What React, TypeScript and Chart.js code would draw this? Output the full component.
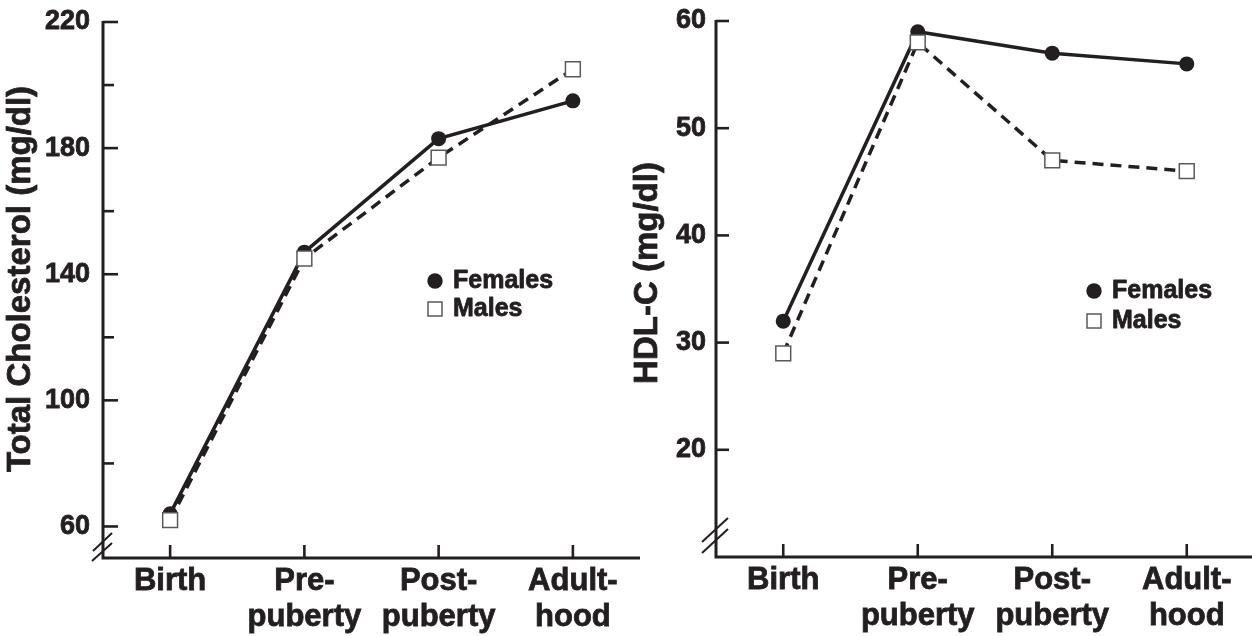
import React, { useEffect, useRef } from 'react';
import { Chart, registerables } from 'chart.js';

Chart.register(...registerables);

// ---------- data ----------
const categories: string[][] = [['Birth'], ['Pre-', 'puberty'], ['Post-', 'puberty'], ['Adult-', 'hood']];
const tcFemales = [64, 147, 183, 195];
const tcMales = [62, 145, 177, 205];
const hdlFemales = [32, 59, 57, 56];
const hdlMales = [29, 58, 47, 46];
const tcMajorTicks = [60, 100, 140, 180, 220];
const tcMinorTicks = [80, 120, 160, 200];
const hdlMajorTicks = [20, 30, 40, 50, 60];
const hdlMinorTicks: number[] = [];
const legendLabels = ['Females', 'Males'];
const tcTitle = 'Total Cholesterol (mg/dl)';
const hdlTitle = 'HDL-C (mg/dl)';

const INK = '#231f20';
const FONT = '"Liberation Sans", Arial, Helvetica, sans-serif';
const HEAVY = 0.8;

type Panel = {
  females: number[];
  males: number[];
  min: number;
  max: number;
  major: number[];
  minor: number[];
  title: string;
  canvasW: number;
  yAxisW: number;
  xAxisH: number;
  padTop: number;
  padRight: number;
  yLabelPad: number;
  majorLen: number;
  titleX: number;
  titleY: number;
  legendDX: number;
  legendDY: number;
  legendGap: number;
  brk: number[][];
};

function makeChart(canvas: HTMLCanvasElement, p: Panel) {
  const plugin = {
    id: 'decor_' + p.title.length,
    beforeDatasetsDraw(chart: any) {
      const ctx = chart.ctx as CanvasRenderingContext2D;
      const ca = chart.chartArea;
      const xs = chart.scales.x;
      const ys = chart.scales.y;
      ctx.save();
      ctx.strokeStyle = INK;
      ctx.lineWidth = 3;
      ctx.lineJoin = 'miter';
      ctx.lineCap = 'butt';
      ctx.beginPath();
      ctx.moveTo(ca.left, ys.getPixelForValue(p.max) - 1);
      ctx.lineTo(ca.left, ca.bottom);
      ctx.lineTo(ca.right, ca.bottom);
      ctx.stroke();
      ctx.lineWidth = 2.6;
      p.major.forEach((v) => {
        const py = ys.getPixelForValue(v);
        ctx.beginPath();
        ctx.moveTo(ca.left, py);
        ctx.lineTo(ca.left + p.majorLen, py);
        ctx.stroke();
      });
      p.minor.forEach((v) => {
        const py = ys.getPixelForValue(v);
        ctx.beginPath();
        ctx.moveTo(ca.left, py);
        ctx.lineTo(ca.left + p.majorLen - 4, py);
        ctx.stroke();
      });
      categories.forEach((_, i) => {
        const px = xs.getPixelForValue(i);
        ctx.beginPath();
        ctx.moveTo(px, ca.bottom);
        ctx.lineTo(px, ca.bottom - 13);
        ctx.stroke();
      });
      ctx.lineWidth = 2;
      p.brk.forEach((s) => {
        ctx.beginPath();
        ctx.moveTo(ca.left + s[0], ca.bottom + s[1]);
        ctx.lineTo(ca.left + s[2], ca.bottom + s[3]);
        ctx.stroke();
      });
      ctx.restore();
    },
    afterDraw(chart: any) {
      const ctx = chart.ctx as CanvasRenderingContext2D;
      const ca = chart.chartArea;
      ctx.save();
      ctx.fillStyle = INK;
      ctx.strokeStyle = INK;
      ctx.lineWidth = HEAVY;
      ctx.lineJoin = 'round';
      ctx.font = `bold 33px ${FONT}`;
      ctx.textAlign = 'center';
      ctx.textBaseline = 'middle';
      ctx.translate(p.titleX, p.titleY);
      ctx.rotate(-Math.PI / 2);
      ctx.fillText(p.title, 0, 0);
      ctx.strokeText(p.title, 0, 0);
      ctx.restore();

      ctx.save();
      const lx = ca.left + p.legendDX;
      const ly = ca.top + p.legendDY;
      ctx.fillStyle = INK;
      ctx.beginPath();
      ctx.arc(lx, ly, 7.7, 0, Math.PI * 2);
      ctx.fill();
      ctx.fillStyle = '#fff';
      ctx.strokeStyle = '#58595b';
      ctx.lineWidth = 1.5;
      ctx.fillRect(lx - 7, ly + p.legendGap - 7, 14, 14);
      ctx.strokeRect(lx - 7, ly + p.legendGap - 7, 14, 14);
      ctx.fillStyle = INK;
      ctx.strokeStyle = INK;
      ctx.lineWidth = HEAVY;
      ctx.lineJoin = 'round';
      ctx.font = `bold 25px ${FONT}`;
      ctx.textAlign = 'left';
      ctx.textBaseline = 'middle';
      ctx.fillText(legendLabels[0], lx + 18, ly);
      ctx.strokeText(legendLabels[0], lx + 18, ly);
      ctx.fillText(legendLabels[1], lx + 18, ly + p.legendGap);
      ctx.strokeText(legendLabels[1], lx + 18, ly + p.legendGap);
      ctx.restore();
    },
  };

  return new Chart(canvas, {
    type: 'line',
    data: {
      labels: categories as any,
      datasets: [
        {
          label: legendLabels[1],
          data: p.males,
          order: 0,
          borderColor: INK,
          borderWidth: 3.5,
          borderDash: [11, 7],
          pointStyle: 'rect',
          pointRadius: 10.5,
          pointBackgroundColor: '#ffffff',
          pointBorderColor: '#58595b',
          pointBorderWidth: 1.5,
          tension: 0,
          clip: false as any,
        },
        {
          label: legendLabels[0],
          data: p.females,
          order: 1,
          borderColor: INK,
          borderWidth: 3.5,
          pointStyle: 'circle',
          pointRadius: 7.5,
          pointBackgroundColor: INK,
          pointBorderColor: INK,
          pointBorderWidth: 0,
          tension: 0,
          clip: false as any,
        },
      ],
    },
    options: {
      responsive: false,
      animation: false,
      events: [],
      layout: { autoPadding: false, padding: { top: p.padTop, right: p.padRight, left: 0, bottom: 0 } },
      plugins: { legend: { display: false }, tooltip: { enabled: false }, title: { display: false } },
      scales: {
        x: {
          type: 'category',
          offset: true,
          grid: { display: false, drawTicks: false },
          border: { display: false },
          ticks: {
            color: INK,
            textStrokeColor: INK,
            textStrokeWidth: HEAVY,
            font: { family: FONT, size: 31, weight: 'bold', lineHeight: 36 / 31 },
            padding: 5,
            maxRotation: 0,
            minRotation: 0,
            autoSkip: false,
          },
          afterFit: (s: any) => {
            s.height = p.xAxisH;
            s.paddingLeft = 0;
            s.paddingRight = 0;
          },
        },
        y: {
          type: 'linear',
          min: p.min,
          max: p.max,
          grid: { display: false, drawTicks: false },
          border: { display: false },
          afterBuildTicks: (s: any) => {
            s.ticks = [...p.major].sort((a, b) => a - b).map((v) => ({ value: v }));
          },
          ticks: {
            color: INK,
            textStrokeColor: INK,
            textStrokeWidth: HEAVY,
            font: { family: FONT, size: 27, weight: 'bold', lineHeight: 1.2 },
            padding: p.yLabelPad,
            callback: (v: any) => String(v),
          },
          afterFit: (s: any) => {
            s.width = p.yAxisW;
            s.paddingTop = 0;
            s.paddingBottom = 0;
          },
        },
      },
    } as any,
    plugins: [plugin],
  });
}

const leftPanel: Panel = {
  females: tcFemales,
  males: tcMales,
  min: 50,
  max: 220,
  major: tcMajorTicks,
  minor: tcMinorTicks,
  title: tcTitle,
  canvasW: 650,
  yAxisW: 103,
  xAxisH: 636 - 558,
  padTop: 22,
  padRight: 650 - 640,
  yLabelPad: 13,
  majorLen: 15,
  titleX: 21,
  titleY: 279,
  legendDX: 332,
  legendDY: 259,
  legendGap: 28,
  brk: [
    [-11, 3, 9, -15],
    [-10, -7, 9, -25],
  ],
};

const rightPanel: Panel = {
  females: hdlFemales,
  males: hdlMales,
  min: 10,
  max: 60,
  major: hdlMajorTicks,
  minor: hdlMinorTicks,
  title: hdlTitle,
  canvasW: 636,
  yAxisW: 96,
  xAxisH: 636 - 557,
  padTop: 21,
  padRight: 2,
  yLabelPad: 10,
  majorLen: 13,
  titleX: 27.5,
  titleY: 273,
  legendDX: 378,
  legendDY: 270,
  legendGap: 30,
  brk: [
    [-14, -4, 12, -28],
    [-14, -15, 12, -39],
  ],
};

function ChartCanvas({ panel, left }: { panel: Panel; left: number }) {
  const ref = useRef<HTMLCanvasElement | null>(null);
  useEffect(() => {
    if (!ref.current) return;
    const c = makeChart(ref.current, panel);
    return () => c.destroy();
  }, [panel]);
  return (
    <canvas
      ref={ref}
      width={panel.canvasW}
      height={636}
      style={{ position: 'absolute', left, top: 0, width: panel.canvasW, height: 636 }}
    />
  );
}

export default function App() {
  return (
    <div
      style={{
        position: 'fixed',
        left: 0,
        top: 0,
        width: 1252,
        height: 636,
        overflow: 'hidden',
        background: '#ffffff',
      }}
    >
      <ChartCanvas panel={leftPanel} left={0} />
      <ChartCanvas panel={rightPanel} left={620} />
    </div>
  );
}
